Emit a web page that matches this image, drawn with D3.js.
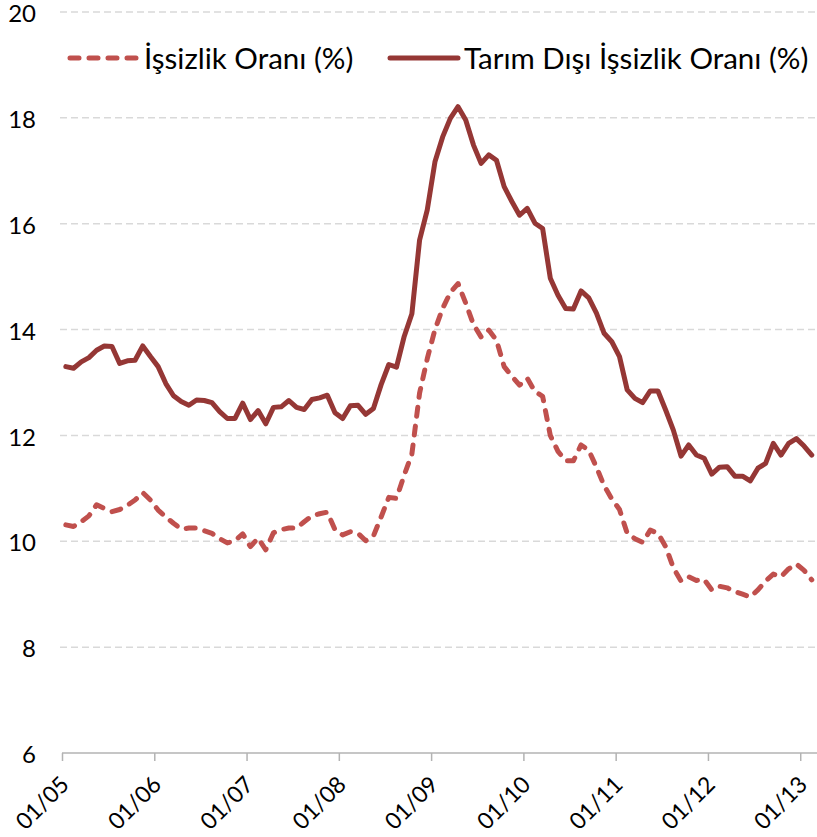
<!DOCTYPE html>
<meta charset="utf-8">
<style>
    body { margin: 0; background: #fff; }
    text {
        font-family: Lato, "Open Sans", sans-serif;
        fill: #000;
    }
    .grid line {
        stroke: #d9d9d9;
        stroke-width: 1.5;
        stroke-dasharray: 7, 4;
    }
</style>

<svg width="817" height="837"></svg>

<script src="https://cdn.jsdelivr.net/npm/d3@7/dist/d3.min.js"></script>

<script>
    // monthly, 01/2005 .. 02/2013
    var tickLabels = ["01/05", "01/06", "01/07", "01/08", "01/09", "01/10", "01/11", "01/12", "01/13"];
    var yTicks = [6, 8, 10, 12, 14, 16, 18, 20];

    var issizlik = [
        10.31, 10.28, 10.37, 10.48, 10.69, 10.62, 10.56, 10.60, 10.68, 10.78, 10.92, 10.78,
        10.59, 10.46, 10.34, 10.23, 10.25, 10.25, 10.20, 10.15, 10.05, 9.97, 10.01, 10.14,
        9.90, 10.06, 9.84, 10.16, 10.22, 10.25, 10.25, 10.37, 10.48, 10.52, 10.55, 10.22,
        10.12, 10.18, 10.15, 10.01, 10.10, 10.46, 10.83, 10.81, 11.25, 11.65, 12.80, 13.45,
        14.00, 14.40, 14.70, 14.87, 14.50, 14.10, 13.86, 13.99, 13.80, 13.30, 13.12, 12.95,
        13.08, 12.83, 12.74, 12.00, 11.70, 11.52, 11.52, 11.82, 11.72, 11.40, 11.05, 10.80,
        10.60, 10.15, 10.05, 9.98, 10.21, 10.15, 9.90, 9.50, 9.25, 9.33, 9.26, 9.28,
        9.08, 9.15, 9.12, 9.05, 9.00, 8.95, 9.08, 9.25, 9.38, 9.33, 9.48, 9.57,
        9.45, 9.27
    ];

    var tarimDisi = [
        13.30, 13.27, 13.39, 13.47, 13.61, 13.69, 13.68, 13.36, 13.41, 13.42, 13.69, 13.49,
        13.30, 12.98, 12.75, 12.64, 12.57, 12.67, 12.66, 12.62, 12.45, 12.32, 12.32, 12.61,
        12.30, 12.47, 12.22, 12.53, 12.54, 12.66, 12.53, 12.49, 12.68, 12.71, 12.76, 12.43,
        12.32, 12.56, 12.57, 12.40, 12.51, 12.96, 13.34, 13.29, 13.87, 14.30, 15.69, 16.26,
        17.17, 17.64, 17.99, 18.21, 17.96, 17.49, 17.14, 17.30, 17.20, 16.70, 16.42, 16.16,
        16.29, 16.01, 15.91, 14.97, 14.65, 14.40, 14.39, 14.73, 14.60, 14.31, 13.93, 13.77,
        13.49, 12.86, 12.70, 12.62, 12.84, 12.84, 12.48, 12.10, 11.61, 11.82, 11.63, 11.57,
        11.27, 11.40, 11.41, 11.23, 11.23, 11.14, 11.38, 11.47, 11.85, 11.63, 11.85, 11.94,
        11.80, 11.63
    ];

    var series = [
        {name: "İşsizlik Oranı (%)", values: issizlik, color: "#c0504d", dash: "9,10"},
        {name: "Tarım Dışı İşsizlik Oranı (%)", values: tarimDisi, color: "#953735", dash: null}
    ];

    var svg = d3.select("svg");

    var x = d3.scaleLinear()
            .domain([0, issizlik.length])
            .range([62, 815.6]);

    var y = d3.scaleLinear()
            .domain([6, 20])
            .range([753, 12]);

    // gridlines
    svg.append("g")
            .attr("class", "grid")
            .selectAll("line")
            .data(yTicks.slice(1))
            .enter().append("line")
            .attr("x1", 60)
            .attr("x2", 817)
            .attr("y1", function (d) { return y(d); })
            .attr("y2", function (d) { return y(d); });

    // y labels
    svg.append("g")
            .selectAll("text")
            .data(yTicks)
            .enter().append("text")
            .attr("x", 36)
            .attr("y", function (d) { return y(d); })
            .attr("dy", "0.42em")
            .attr("text-anchor", "end")
            .style("font-size", "24px")
            .text(function (d) { return d; });

    // x axis
    var xAxis = d3.axisBottom(x)
            .tickValues(tickLabels.map(function (d, i) { return i * 12; }))
            .tickFormat(function (d, i) { return tickLabels[i]; })
            .tickSize(8)
            .tickSizeOuter(0);

    var gx = svg.append("g")
            .attr("transform", "translate(0," + y(6) + ")")
            .call(xAxis);

    gx.select(".domain").attr("stroke", "#b3b3b3").attr("stroke-width", 1.5)
            .attr("d", "M62,0H817");
    gx.selectAll(".tick line").attr("stroke", "#b3b3b3").attr("stroke-width", 1.5);
    gx.selectAll(".tick text")
            .attr("font-family", null)
            .style("font-size", "23px")
            .attr("text-anchor", "end")
            .attr("dy", null)
            .attr("y", 0)
            .attr("transform", "translate(8,33) rotate(-45)");

    // lines
    var line = d3.line()
            .x(function (d, i) { return x(i + 0.5); })
            .y(function (d) { return y(d); });

    svg.append("g")
            .selectAll("path")
            .data(series)
            .enter().append("path")
            .attr("d", function (d) { return line(d.values); })
            .attr("fill", "none")
            .attr("stroke", function (d) { return d.color; })
            .attr("stroke-width", 5)
            .attr("stroke-linecap", "round")
            .attr("stroke-linejoin", "round")
            .attr("stroke-dasharray", function (d) { return d.dash; });

    // legend
    var legendPos = [{x1: 70, x2: 138, tx: 144}, {x1: 390, x2: 458, tx: 464}];
    var legend = svg.append("g")
            .selectAll("g")
            .data(series)
            .enter().append("g");

    legend.append("line")
            .attr("x1", function (d, i) { return legendPos[i].x1; })
            .attr("x2", function (d, i) { return legendPos[i].x2; })
            .attr("y1", 58)
            .attr("y2", 58)
            .attr("stroke", function (d) { return d.color; })
            .attr("stroke-width", 5)
            .attr("stroke-linecap", "round")
            .attr("stroke-dasharray", function (d) { return d.dash; });

    legend.append("text")
            .attr("x", function (d, i) { return legendPos[i].tx; })
            .attr("y", 58)
            .attr("dy", "0.36em")
            .style("font-size", "29.5px")
            .text(function (d) { return d.name; });
</script>
